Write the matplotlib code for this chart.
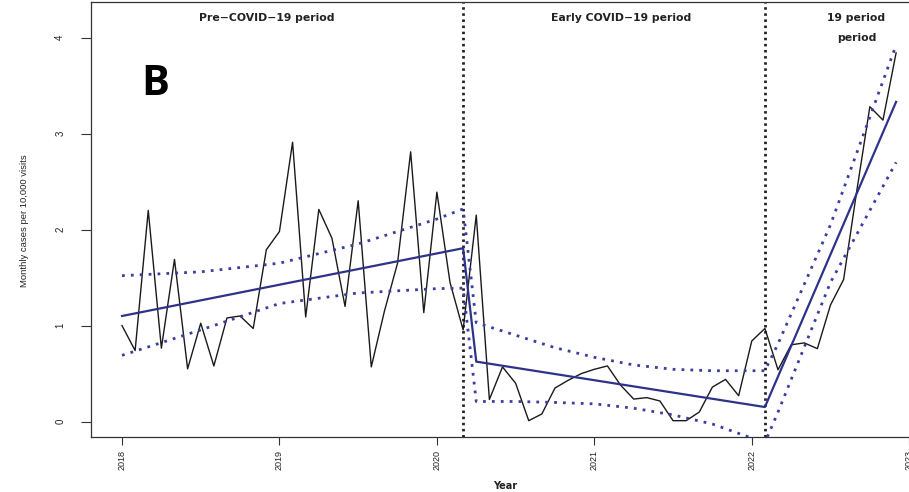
import numpy as np
import matplotlib
matplotlib.use("Agg")
import matplotlib.pyplot as plt

# ---------------- data ----------------
start_year = 2018
cases = [
    1.00, 0.74, 2.20, 0.765, 1.69, 0.55, 1.025, 0.58, 1.08, 1.10, 0.97, 1.79,   # 2018
    1.98, 2.91, 1.09, 2.21, 1.91, 1.20, 2.30, 0.57, 1.15, 1.65, 2.81, 1.135,    # 2019
    2.39, 1.45, 0.955, 2.15, 0.23, 0.57, 0.40, 0.01, 0.08, 0.35, 0.43, 0.50,    # 2020
    0.545, 0.58, 0.38, 0.235, 0.25, 0.215, 0.01, 0.01, 0.10, 0.36, 0.44, 0.27,  # 2021
    0.84, 0.97, 0.54, 0.80, 0.82, 0.76, 1.215, 1.48, 2.40, 3.28, 3.14, 3.84,    # 2022
]

# fitted segmented regression (month index from Jan 2018, value)
fit_month = [0, 26, 27, 49, 59]
fit_value = [1.10, 1.806, 0.625, 0.152, 3.33]

# confidence band (month index, value)
upper_month = [0, 6, 12, 18, 24, 26, 27, 30, 33, 36, 39, 42, 45, 49, 50, 54, 59]
upper_value = [1.52, 1.56, 1.65, 1.85, 2.11, 2.215,
               1.03, 0.90, 0.77, 0.67, 0.59, 0.545, 0.53, 0.53,
               0.81, 2.05, 3.92]
lower_month = [0, 6, 12, 18, 24, 26, 27, 30, 33, 36, 39, 42, 45, 49, 50, 54, 59]
lower_value = [0.69, 0.955, 1.23, 1.34, 1.385, 1.39,
               0.21, 0.21, 0.20, 0.185, 0.14, 0.07, -0.025, -0.22,
               0.10, 1.45, 2.70]

interruptions = [26, 49]   # month index of Mar 2020 and Feb 2022
period_labels = ["Pre\u2212COVID\u221219 period", "Early COVID\u221219 period", "19 period", "period"]
period_label_x = [2018.92, 2021.17, 2022.66, 2022.67]
period_label_y = [0.963, 0.963, 0.963, 0.918]

x_ticks = [2018, 2019, 2020, 2021, 2022, 2023]
y_ticks = [0, 1, 2, 3, 4]


def to_year(months):
    return start_year + np.asarray(months, dtype=float) / 12.0


# ---------------- figure ----------------
W, H = 909, 492
fig = plt.figure(figsize=(W / 100, H / 100), dpi=100)
ax = fig.add_axes([91 / W, 55 / H, 836 / W, 435 / H])

navy = "#2E3388"
band_col = "#3A3E9E"

t = to_year(np.arange(len(cases)))
ax.plot(t, cases, color="#1a1a1a", lw=1.0, zorder=3)

ax.plot(to_year(fit_month), fit_value, color=navy, lw=1.6, zorder=4)
band_style = (0, (1.0, 2.2))
ax.plot(to_year(upper_month), upper_value, color=band_col, lw=2.0,
        linestyle=band_style, dash_capstyle="butt", zorder=4)
ax.plot(to_year(lower_month), lower_value, color=band_col, lw=2.0,
        linestyle=band_style, dash_capstyle="butt", zorder=4)

for m in interruptions:
    ax.axvline(to_year(m), color="#222222", lw=2.0,
               linestyle=(0, (0.9, 1.3)), dash_capstyle="butt", zorder=2)

xtr = ax.get_xaxis_transform()
for lab, lx, ly in zip(period_labels, period_label_x, period_label_y):
    ax.text(lx, ly, lab, transform=xtr, ha="center", va="center",
            fontsize=7.8, fontweight="bold", family="DejaVu Sans", color="#222222")

ax.set_xlim(2017.803, 2023.113)
ax.set_ylim(-0.16, 4.37)

ax.set_xticks(x_ticks)
ax.set_xticklabels([str(v) for v in x_ticks], rotation=90,
                   fontsize=6.5, family="Liberation Sans", color="#222222")
ax.set_yticks(y_ticks)
ax.set_yticklabels([str(v) for v in y_ticks], rotation=90, va="center",
                   fontsize=7, family="Liberation Sans", color="#222222")
ax.tick_params(axis="x", direction="out", length=6, width=0.8, pad=3, color="#333333")
ax.tick_params(axis="y", direction="out", length=7.5, width=0.8, pad=11, color="#333333")

for s in ax.spines.values():
    s.set_linewidth(0.9)
    s.set_color("#333333")

ax.set_xlabel("Year", fontsize=7, fontweight="bold", family="DejaVu Sans", color="#222222")
ax.xaxis.set_label_coords((505 - 91) / 836, -(481 - 437) / 435)

ax.set_ylabel("Monthly cases per 10,000 visits", fontsize=6.8,
              family=["Liberation Sans Narrow", "Liberation Sans"], color="#222222")
ax.yaxis.label.set_va("center")
ax.yaxis.set_label_coords((25 - 91) / 836, (437 - 221) / 435)

fig.text(155 / W, 1 - 95 / H, "B", ha="center", va="baseline",
         fontsize=30, fontweight="bold", family="Open Sans", color="black")

fig.savefig("out.png", dpi=100)
